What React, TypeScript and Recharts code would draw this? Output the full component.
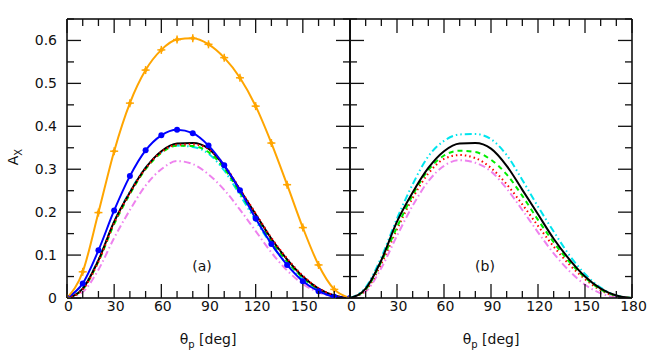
import React from 'react';
import { LineChart, Line, XAxis, YAxis } from 'recharts';

// angle grid (deg)
const theta = [0, 10, 20, 30, 40, 50, 60, 70, 80, 90, 100, 110, 120, 130, 140, 150, 160, 170, 180];

// panel (a)
const orangeA = [0, 0.061, 0.199, 0.342, 0.454, 0.531, 0.578, 0.602, 0.605, 0.591, 0.56, 0.513, 0.447, 0.361, 0.264, 0.164, 0.077, 0.02, 0];
const blueA = [0, 0.034, 0.111, 0.204, 0.284, 0.344, 0.379, 0.392, 0.384, 0.355, 0.309, 0.251, 0.185, 0.126, 0.077, 0.039, 0.016, 0.003, 0];
const blackA = [0, 0.022, 0.088, 0.178, 0.246, 0.303, 0.342, 0.36, 0.361, 0.348, 0.308, 0.252, 0.195, 0.138, 0.09, 0.05, 0.022, 0.006, 0];
const redA = [0, 0.02, 0.085, 0.175, 0.245, 0.302, 0.34, 0.357, 0.358, 0.347, 0.31, 0.254, 0.197, 0.14, 0.092, 0.052, 0.023, 0.006, 0];
const greenA = [0, 0.02, 0.085, 0.172, 0.242, 0.3, 0.338, 0.355, 0.354, 0.34, 0.302, 0.245, 0.188, 0.132, 0.085, 0.047, 0.02, 0.005, 0];
const cyanA = [0, 0.024, 0.09, 0.178, 0.248, 0.304, 0.34, 0.355, 0.352, 0.336, 0.297, 0.24, 0.18, 0.125, 0.079, 0.043, 0.018, 0.004, 0];
const violetA = [0, 0.014, 0.066, 0.14, 0.205, 0.262, 0.3, 0.319, 0.312, 0.288, 0.252, 0.206, 0.156, 0.106, 0.064, 0.033, 0.013, 0.003, 0];

// panel (b)
const blackB = blackA;
const cyanB = [0, 0.025, 0.095, 0.185, 0.265, 0.33, 0.366, 0.381, 0.382, 0.37, 0.333, 0.275, 0.213, 0.155, 0.1, 0.056, 0.024, 0.006, 0];
const greenB = [0, 0.02, 0.085, 0.165, 0.24, 0.298, 0.332, 0.343, 0.34, 0.322, 0.288, 0.238, 0.182, 0.13, 0.084, 0.048, 0.02, 0.005, 0];
const redB = [0, 0.018, 0.08, 0.16, 0.233, 0.29, 0.324, 0.333, 0.326, 0.303, 0.265, 0.218, 0.168, 0.12, 0.078, 0.044, 0.018, 0.004, 0];
const violetB = [0, 0.015, 0.07, 0.145, 0.215, 0.272, 0.308, 0.321, 0.315, 0.295, 0.255, 0.205, 0.153, 0.104, 0.063, 0.031, 0.011, 0.002, 0];

// ticks (minor every 10 deg / 0.05, labelled every 30 deg / 0.1)
const xTicks = [0, 10, 20, 30, 40, 50, 60, 70, 80, 90, 100, 110, 120, 130, 140, 150, 160, 170, 180];
const yTicks = [0, 0.05, 0.1, 0.15, 0.2, 0.25, 0.3, 0.35, 0.4, 0.45, 0.5, 0.55, 0.6, 0.65];

const dataA = theta.map((t, i) => ({
  t,
  orange: orangeA[i],
  blue: blueA[i],
  black: blackA[i],
  red: redA[i],
  green: greenA[i],
  cyan: cyanA[i],
  violet: violetA[i],
}));

const dataB = theta.map((t, i) => ({
  t,
  black: blackB[i],
  red: redB[i],
  green: greenB[i],
  cyan: cyanB[i],
  violet: violetB[i],
}));

const FONT = 'DejaVu Sans, sans-serif';
const TM = 4; // tickMargin
const TICK_COLOR = '#111';
const axisLine = { stroke: '#000', strokeWidth: 1.5 };

const isMajorX = (v: number) => v % 30 === 0;
const isMajorY = (v: number) => Math.round(v * 100) % 10 === 0;
const fmtY = (v: number) => (v === 0 ? '0' : v.toFixed(1));

// tick renderers draw inward tick marks (+ labels where wanted)
const bottomTick = (labels: boolean, hideLast: boolean) => (props: any) => {
  const { x, y, payload } = props;
  const base = y - TM;
  const v = payload.value;
  const major = isMajorX(v);
  return (
    <g>
      <line x1={x} x2={x} y1={base} y2={base - (major ? 14 : 7)} stroke={TICK_COLOR} strokeWidth={1.3} />
      {labels && major && !(hideLast && v === 180) && (
        <text x={x + 1.5} y={base + 13} textAnchor="middle" fontFamily={FONT} fontSize={14} fill="#111">
          {v}
        </text>
      )}
    </g>
  );
};

const topTick = (props: any) => {
  const { x, y, payload } = props;
  const base = y + TM;
  const major = isMajorX(payload.value);
  return <line x1={x} x2={x} y1={base} y2={base + (major ? 14 : 7)} stroke={TICK_COLOR} strokeWidth={1.3} />;
};

const leftTick = (labels: boolean) => (props: any) => {
  const { x, y, payload } = props;
  const base = x + TM;
  const v = payload.value;
  const major = isMajorY(v);
  return (
    <g>
      <line x1={base} x2={base + (major ? 14 : 7)} y1={y} y2={y} stroke={TICK_COLOR} strokeWidth={1.3} />
      {labels && major && (
        <text x={base - 10} y={y + 5} textAnchor="end" fontFamily={FONT} fontSize={14} fill="#111">
          {fmtY(v)}
        </text>
      )}
    </g>
  );
};

const rightTick = (props: any) => {
  const { x, y, payload } = props;
  const base = x - TM;
  const major = isMajorY(payload.value);
  return <line x1={base} x2={base - (major ? 14 : 7)} y1={y} y2={y} stroke={TICK_COLOR} strokeWidth={1.3} />;
};

const OrangeDot = (props: any) => {
  const { cx, cy } = props;
  if (cx == null || cy == null) return null;
  return (
    <g>
      <path d={`M${cx},${cy - 3} L${cx + 2.5},${cy} L${cx},${cy + 3} L${cx - 2.5},${cy} Z`} fill="#FFA500" />
      <line x1={cx - 4} x2={cx + 4} y1={cy} y2={cy} stroke="#FFA500" strokeWidth={1.5} />
      <line x1={cx} x2={cx} y1={cy - 4} y2={cy + 4} stroke="#FFA500" strokeWidth={1.5} />
    </g>
  );
};

const BlueDot = (props: any) => {
  const { cx, cy } = props;
  if (cx == null || cy == null) return null;
  return <circle cx={cx} cy={cy} r={3} fill="#0000FF" />;
};

const commonX = {
  type: 'number' as const,
  dataKey: 't',
  domain: [0, 180],
  ticks: xTicks,
  interval: 0,
  tickSize: 0,
  tickMargin: TM,
  tickLine: false,
  axisLine,
  allowDataOverflow: true,
};

const commonY = {
  type: 'number' as const,
  domain: [0, 0.65],
  ticks: yTicks,
  interval: 0,
  tickSize: 0,
  tickMargin: TM,
  tickLine: false,
  axisLine,
  allowDataOverflow: true,
};

const Dashes = {
  green: '5 4',
  red: '1.5 3',
  violet: '7 3 1.5 3',
  cyan: '7 3 1.5 3 1.5 3',
};

const C = {
  orange: '#FFA500',
  blue: '#0000FF',
  black: '#000000',
  red: '#FF0000',
  green: '#00EE00',
  cyan: '#00E5EE',
  violet: '#EE82EE',
};

export default function App() {
  return (
    <div style={{ position: 'absolute', left: 0, top: 0, width: 664, height: 358, background: '#fff' }}>
      <div style={{ position: 'absolute', left: 0, top: 0 }}>
        <LineChart width={362} height={358} data={dataA} margin={{ top: 9, right: 2, bottom: 30, left: 7 }}>
          <XAxis {...commonX} xAxisId={0} orientation="bottom" height={30} tick={bottomTick(true, true)} />
          <XAxis {...commonX} xAxisId="top" orientation="top" height={10} tick={topTick} />
          <YAxis {...commonY} yAxisId={0} orientation="left" width={60} tick={leftTick(true)} />
          <YAxis {...commonY} yAxisId="right" orientation="right" width={10} tick={rightTick} />
          <Line dataKey="violet" type="monotone" stroke={C.violet} strokeWidth={2} strokeDasharray={Dashes.violet} dot={false} activeDot={false} isAnimationActive={false} />
          <Line dataKey="cyan" type="monotone" stroke={C.cyan} strokeWidth={2} strokeDasharray={Dashes.cyan} dot={false} activeDot={false} isAnimationActive={false} />
          <Line dataKey="green" type="monotone" stroke={C.green} strokeWidth={2} strokeDasharray={Dashes.green} dot={false} activeDot={false} isAnimationActive={false} />
          <Line dataKey="black" type="monotone" stroke={C.black} strokeWidth={2} dot={false} activeDot={false} isAnimationActive={false} />
          <Line dataKey="red" type="monotone" stroke={C.red} strokeWidth={2} strokeDasharray={Dashes.red} dot={false} activeDot={false} isAnimationActive={false} />
          <Line dataKey="blue" type="monotone" stroke={C.blue} strokeWidth={2} dot={<BlueDot />} activeDot={false} isAnimationActive={false} />
          <Line dataKey="orange" type="monotone" stroke={C.orange} strokeWidth={2} dot={<OrangeDot />} activeDot={false} isAnimationActive={false} />
        </LineChart>
      </div>
      <div style={{ position: 'absolute', left: 340, top: 0 }}>
        <LineChart width={324} height={358} data={dataB} margin={{ top: 9, right: 22, bottom: 30, left: 2 }}>
          <XAxis {...commonX} xAxisId={0} orientation="bottom" height={30} tick={bottomTick(true, false)} />
          <XAxis {...commonX} xAxisId="top" orientation="top" height={10} tick={topTick} />
          <YAxis {...commonY} yAxisId={0} orientation="left" width={8} tick={leftTick(false)} />
          <YAxis {...commonY} yAxisId="right" orientation="right" width={10} tick={rightTick} />
          <Line dataKey="violet" type="monotone" stroke={C.violet} strokeWidth={2} strokeDasharray={Dashes.violet} dot={false} activeDot={false} isAnimationActive={false} />
          <Line dataKey="red" type="monotone" stroke={C.red} strokeWidth={2} strokeDasharray={Dashes.red} dot={false} activeDot={false} isAnimationActive={false} />
          <Line dataKey="green" type="monotone" stroke={C.green} strokeWidth={2} strokeDasharray={Dashes.green} dot={false} activeDot={false} isAnimationActive={false} />
          <Line dataKey="cyan" type="monotone" stroke={C.cyan} strokeWidth={2} strokeDasharray={Dashes.cyan} dot={false} activeDot={false} isAnimationActive={false} />
          <Line dataKey="black" type="monotone" stroke={C.black} strokeWidth={2} dot={false} activeDot={false} isAnimationActive={false} />
        </LineChart>
      </div>
      <svg width={664} height={358} style={{ position: 'absolute', left: 0, top: 0, pointerEvents: 'none' }}>
        <text transform="translate(18,157) rotate(-90)" textAnchor="middle" fontFamily={FONT} fontSize={14} fill="#111">
          A<tspan dy={4} fontSize={10}>X</tspan>
        </text>
        <text x={208} y={344} textAnchor="middle" fontFamily={FONT} fontSize={14} fill="#111">
          θ<tspan dy={4} fontSize={10}>p</tspan>
          <tspan dy={-4}> [deg]</tspan>
        </text>
        <text x={491} y={344} textAnchor="middle" fontFamily={FONT} fontSize={14} fill="#111">
          θ<tspan dy={4} fontSize={10}>p</tspan>
          <tspan dy={-4}> [deg]</tspan>
        </text>
        <text x={202} y={271} textAnchor="middle" fontFamily={FONT} fontSize={14} fill="#111">(a)</text>
        <text x={485} y={271} textAnchor="middle" fontFamily={FONT} fontSize={14} fill="#111">(b)</text>
      </svg>
    </div>
  );
}
